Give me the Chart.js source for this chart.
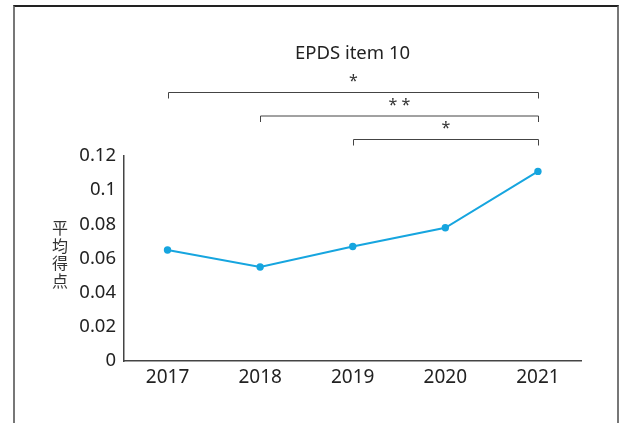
<!DOCTYPE html>
<html>
<head>
<meta charset="utf-8">
<script src="https://cdn.jsdelivr.net/npm/chart.js@4/dist/chart.umd.min.js"></script>
<style>
  html, body { margin: 0; padding: 0; background: #fff; }
  #wrap { position: relative; width: 622px; height: 423px; }
  #frame { position: absolute; left: 13px; top: 5px; width: 602px; height: 430px;
           border-left: 2px solid #777; border-top: 2px solid #222; border-right: 2px solid #777; }
  canvas { position: absolute; left: 0; top: 0; }
</style>
</head>
<body>
<div id="wrap">
  <div id="frame"></div>
  <canvas id="c" width="622" height="423"></canvas>
</div>
<script>
// Yearly mean score for EPDS item 10
const years = [2017, 2018, 2019, 2020, 2021];
const meanScores = [0.065, 0.055, 0.067, 0.078, 0.111];
const yTicks = [0, 0.02, 0.04, 0.06, 0.08, 0.1, 0.12];
const yAxisLabel = '平均得点';
const chartTitle = 'EPDS item 10';
// Significance comparisons: [from year, to year, marker]
const comparisons = [[2017, 2021, '*'], [2018, 2021, '**'], [2019, 2021, '*']];

const FONT = '"Noto Sans", "Noto Sans CJK JP", sans-serif';
const LINE = '#16a5df';

// Title centred over the plot area, significance brackets and the stacked y label
const annotationPlugin = {
  id: 'annotations',
  afterDraw(chart) {
    const { ctx, chartArea, scales } = chart;
    const x = scales.x;
    const cx = (chartArea.left + chartArea.right) / 2;
    ctx.save();
    ctx.textAlign = 'center';
    ctx.textBaseline = 'middle';

    ctx.fillStyle = '#222';
    ctx.font = '18.5px ' + FONT;
    ctx.fillText(chartTitle, cx, chartArea.top - 102);

    ctx.strokeStyle = '#444';
    ctx.lineWidth = 1;
    ctx.fillStyle = '#333';
    ctx.font = '16px ' + FONT;
    comparisons.forEach((c, i) => {
      const x1 = Math.round(x.getPixelForValue(c[0])) + 0.5;
      const x2 = Math.round(x.getPixelForValue(c[1])) + 0.5;
      const yb = chartArea.top - 63.5 + i * 23.5;
      ctx.beginPath();
      ctx.moveTo(x1, yb + 6);
      ctx.lineTo(x1, yb);
      ctx.lineTo(x2, yb);
      ctx.lineTo(x2, yb + 6);
      ctx.stroke();
      ctx.fillText(c[2].split('').join(' '), (x1 + x2) / 2, yb - 11);
    });

    ctx.fillStyle = '#333';
    ctx.font = '16px ' + FONT;
    const chars = yAxisLabel.split('');
    const step = 17.5;
    const cy = 256;
    chars.forEach((ch, k) => {
      ctx.fillText(ch, 60, cy + (k - (chars.length - 1) / 2) * step);
    });
    ctx.restore();
  }
};

new Chart(document.getElementById('c'), {
  type: 'line',
  data: {
    datasets: [{
      data: years.map((yr, i) => ({ x: yr, y: meanScores[i] })),
      borderColor: LINE,
      backgroundColor: LINE,
      borderWidth: 2,
      pointRadius: 3.7,
      pointBackgroundColor: LINE,
      pointBorderWidth: 0,
      tension: 0
    }]
  },
  options: {
    responsive: false,
    animation: false,
    devicePixelRatio: 1,
    layout: { padding: { left: 40, right: 41, top: 156, bottom: 0 } },
    plugins: {
      legend: { display: false },
      tooltip: { enabled: false },
      title: { display: false }
    },
    scales: {
      x: {
        type: 'linear',
        min: 2016.53,
        max: 2021.465,
        afterBuildTicks(s) { s.ticks = years.map(v => ({ value: v })); },
        grid: { display: false, drawTicks: false },
        border: { display: true, color: '#444', width: 1.5 },
        ticks: { color: '#222', font: { family: FONT, size: 19 }, padding: 5, callback: v => String(v) },
        afterFit(s) { s.height = 62; }
      },
      y: {
        min: 0,
        max: 0.12,
        afterBuildTicks(s) { s.ticks = yTicks.map(v => ({ value: v })); },
        grid: { display: false, drawTicks: false },
        border: { display: true, color: '#444', width: 1.5 },
        ticks: {
          color: '#222',
          font: { family: FONT, size: 18.5 },
          padding: 8,
          callback: v => String(v)
        },
        afterFit(s) { s.width = 84; }
      }
    }
  },
  plugins: [annotationPlugin]
});
</script>
</body>
</html>
